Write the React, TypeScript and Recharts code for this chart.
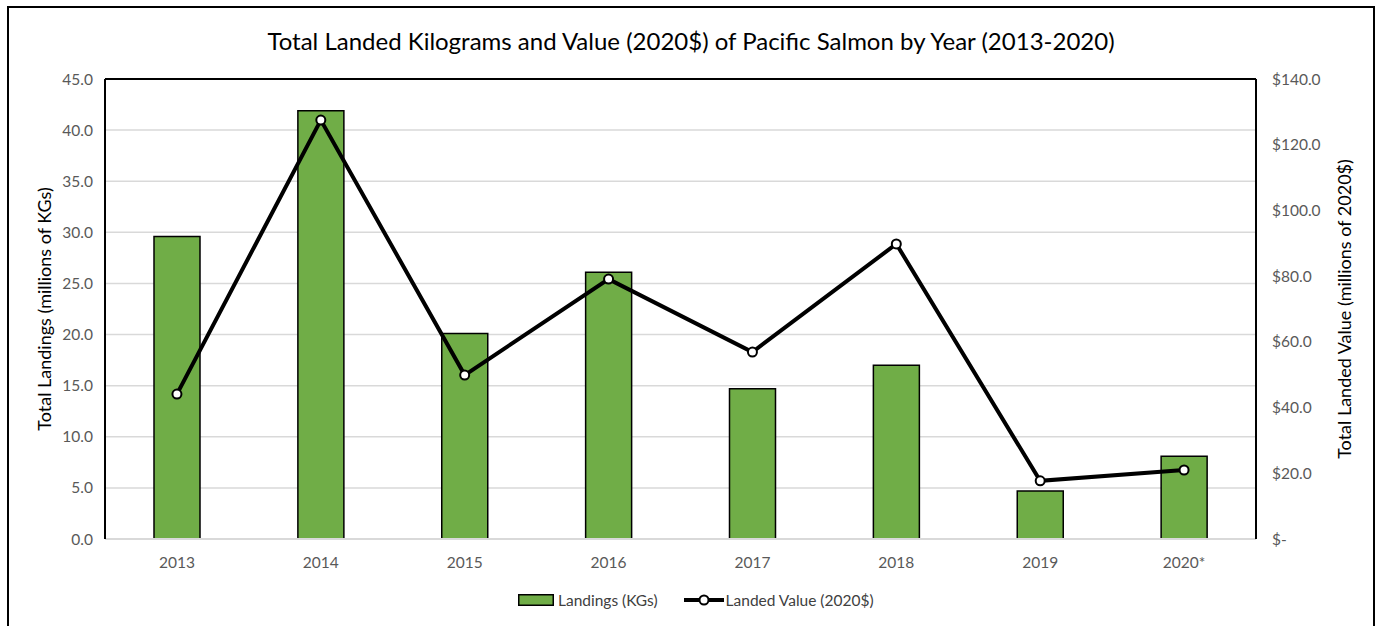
import {
  ComposedChart,
  Bar,
  Line,
  XAxis,
  YAxis,
  CartesianGrid,
  ReferenceLine,
} from "recharts";

const years = ["2013", "2014", "2015", "2016", "2017", "2018", "2019", "2020*"];
const landings = [29.6, 41.9, 20.1, 26.1, 14.7, 17.0, 4.7, 8.1];
const landedValue = [44.1, 127.5, 49.9, 79.1, 56.9, 89.8, 17.7, 21.0];
const leftTicks = [0, 5, 10, 15, 20, 25, 30, 35, 40, 45];
const rightTicks = [0, 20, 40, 60, 80, 100, 120, 140];

const data = years.map((year, i) => ({
  year,
  landings: landings[i],
  value: landedValue[i],
}));

const FONT = "Lato, 'Open Sans', sans-serif";
const TICK = { fill: "#595959", fontSize: 15.5, fontFamily: FONT };

export default function App() {
  return (
    <div
      style={{
        position: "absolute",
        left: 0,
        top: 0,
        width: 1382,
        height: 626,
        overflow: "hidden",
        background: "#fff",
        fontFamily: FONT,
      }}
    >
      <div
        style={{
          position: "absolute",
          left: 7,
          top: 6,
          width: 1368,
          height: 640,
          border: "2px solid #000",
          boxSizing: "border-box",
        }}
      />
      <div
        style={{
          position: "absolute",
          left: 0,
          top: 26,
          width: 1382,
          textAlign: "center",
          fontSize: 24,
          color: "#000",
        }}
      >
        Total Landed Kilograms and Value (2020$) of Pacific Salmon by Year (2013-2020)
      </div>

      <div style={{ position: "absolute", left: 0, top: 0 }}>
        <ComposedChart
          width={1382}
          height={626}
          data={data}
          margin={{ top: 79, right: 0, bottom: 57, left: 0 }}
          barCategoryGap="34%"
        >
          <CartesianGrid vertical={false} stroke="#D9D9D9" strokeWidth={1.5} yAxisId="left" />
          <XAxis
            dataKey="year"
            height={30}
            tickLine={false}
            axisLine={{ stroke: "#D9D9D9", strokeWidth: 2 }}
            tick={TICK}
            tickMargin={12}
          />
          <YAxis
            yAxisId="left"
            orientation="left"
            width={105}
            domain={[0, 45]}
            ticks={leftTicks}
            tickFormatter={(v: number) => v.toFixed(1)}
            tickLine={false}
            axisLine={{ stroke: "#000", strokeWidth: 2 }}
            tick={TICK}
            tickMargin={6}
            label={{
              value: "Total Landings (millions of KGs)",
              angle: -90,
              position: "insideLeft",
              offset: 45,
              style: { textAnchor: "middle", fill: "#000", fontSize: 18, fontFamily: FONT },
            }}
          />
          <YAxis
            yAxisId="right"
            orientation="right"
            width={126}
            domain={[0, 140]}
            ticks={rightTicks}
            tickFormatter={(v: number) => (v === 0 ? "$-" : "$" + v.toFixed(1))}
            tickLine={false}
            axisLine={{ stroke: "#000", strokeWidth: 2 }}
            tick={TICK}
            tickMargin={10}
            label={{
              value: "Total Landed Value (millions of 2020$)",
              angle: -90,
              position: "insideRight",
              offset: 37,
              style: { textAnchor: "middle", fill: "#000", fontSize: 18, fontFamily: FONT },
            }}
          />
          <ReferenceLine yAxisId="left" y={45} stroke="#000" strokeWidth={2} />
          <Bar
            yAxisId="left"
            dataKey="landings"
            fill="#70AD47"
            stroke="#000"
            strokeWidth={1.5}
            barSize={46}
            isAnimationActive={false}
          />
          <Line
            yAxisId="right"
            dataKey="value"
            type="linear"
            stroke="#000"
            strokeWidth={4}
            dot={{ r: 4.5, fill: "#fff", stroke: "#000", strokeWidth: 2 }}
            isAnimationActive={false}
          />
        </ComposedChart>
      </div>

      <div
        style={{
          position: "absolute",
          left: 518,
          top: 591,
          display: "flex",
          alignItems: "center",
          fontSize: 15.5,
          color: "#404040",
          whiteSpace: "nowrap",
        }}
      >
        <svg width={36} height={12} style={{ marginRight: 4 }}>
          <rect x={0.75} y={0.75} width={34.5} height={10.5} fill="#70AD47" stroke="#000" strokeWidth={1.5} />
        </svg>
        <span>Landings (KGs)</span>
        <svg width={40} height={14} style={{ marginLeft: 26, marginRight: 2 }}>
          <line x1={0} y1={7} x2={40} y2={7} stroke="#000" strokeWidth={4} />
          <circle cx={20} cy={7} r={4.5} fill="#fff" stroke="#000" strokeWidth={2} />
        </svg>
        <span>Landed Value (2020$)</span>
      </div>
    </div>
  );
}
